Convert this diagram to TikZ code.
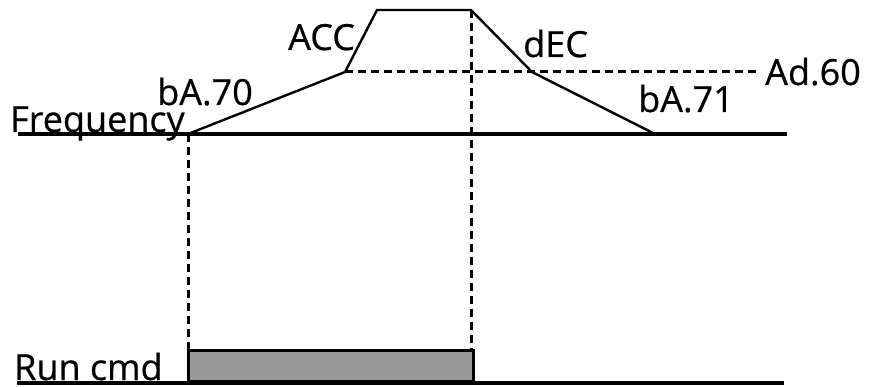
\documentclass[tikz,border=0pt]{standalone}
\usepackage{fontspec}
\setmainfont{Open Sans}[FakeBold=0.6]
\begin{document}
\begin{tikzpicture}[x=1pt,y=-1pt,
  lbl/.style={anchor=base west,inner sep=0pt,font=\fontsize{36}{38}\selectfont},
  axis/.style={line width=4pt},
  curve/.style={line width=2.4pt,line join=miter},
  guide/.style={line width=3pt,dash pattern=on 8pt off 5pt}]
\useasboundingbox (0,0) rectangle (870,387);
% key points
\coordinate (f0) at (18,134);
\coordinate (f1) at (787,134);
\coordinate (s) at (188,134);
\coordinate (a1) at (345,72);
\coordinate (a2) at (377,10);
\coordinate (d1) at (471,10);
\coordinate (d2) at (532,72);
\coordinate (e) at (655,134);
\coordinate (h) at (757,72);
\coordinate (r0) at (17,383);
\coordinate (r1) at (784,383);
\coordinate (sb) at (188,352);
\coordinate (db) at (471,352);
% axes
\draw[axis] (f0) -- (f1);
\draw[axis] (r0) -- (r1);
% guides
\draw[guide] (a1) -- (h);
\draw[guide] (s) -- (sb);
\draw[guide] (d1) -- (db);
% frequency profile
\draw[curve] (s) -- (a1) -- (a2) -- (d1) -- (d2) -- (e);
% run command
\node[draw,line width=3pt,fill=black!40,minimum width=285pt,minimum height=31pt,inner sep=0pt,anchor=south west] (run) at (187,383) {};
% labels
\node[lbl] (freq) at (10,132) {Frequency};
\node[lbl] (b70) at (157,105) {bA.70};
\node[lbl] (acc) at (288,50) {ACC};
\node[lbl] (dec) at (523,57) {dEC};
\node[lbl] (ad60) at (765,85) {Ad.60};
\node[lbl] (b71) at (638,112) {bA.71};
\node[lbl] (rc) at (14,380) {Run cmd};
\end{tikzpicture}
\end{document}
